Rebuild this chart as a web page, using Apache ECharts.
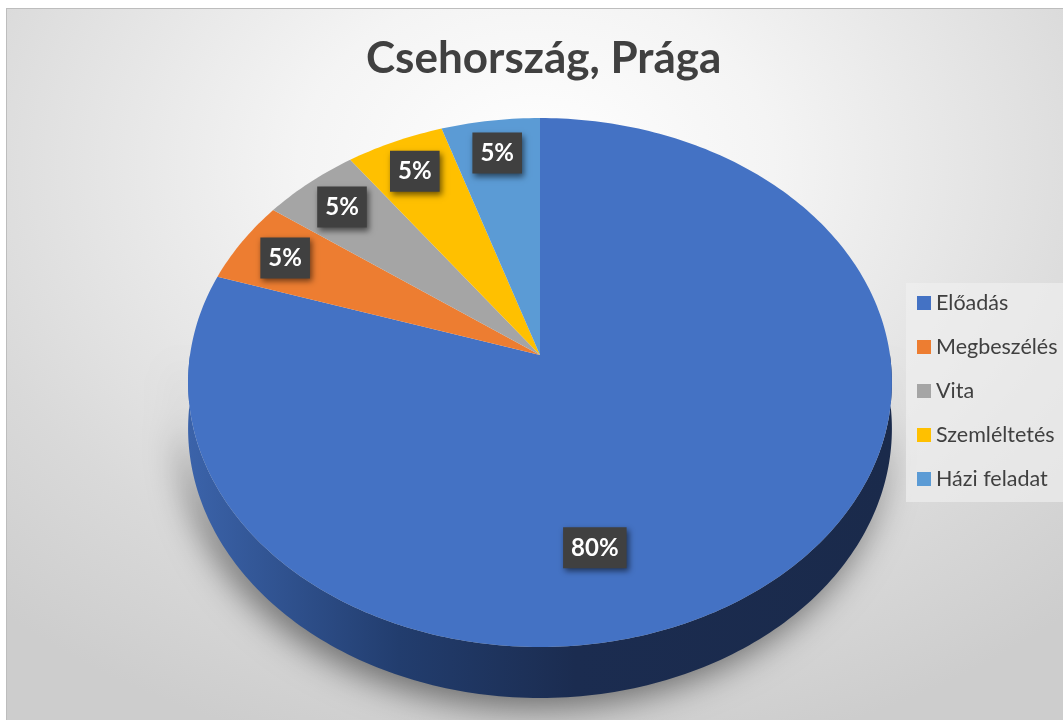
<!DOCTYPE html>
<html>
<head>
<meta charset="utf-8">
<script src="https://cdn.jsdelivr.net/npm/echarts@6/dist/echarts.min.js"></script>
<style>
  html, body { margin: 0; padding: 0; background: #fff; }
  .frame {
    position: absolute; left: 6px; top: 8px; width: 1057px; height: 712px;
    border-left: 1px solid #bdbdbd; border-top: 1px solid #bdbdbd;
    background: radial-gradient(ellipse 75% 85% at 50% 22%, #ffffff 0%, #f4f4f4 30%, #d9d9d9 75%, #cdcdcd 100%);
  }
  #chart { position: absolute; left: 0; top: 0; width: 1063px; height: 720px; }
</style>
</head>
<body>
<div class="frame"></div>
<div id="chart"></div>
<script>
// data
const categories = ['Előadás', 'Megbeszélés', 'Vita', 'Szemléltetés', 'Házi feladat']
const values = [80, 5, 5, 5, 5]
const colors = ['#4472C4', '#ED7D31', '#A5A5A5', '#FFC000', '#5B9BD5']

// 3d pie geometry (screen px)
const CX = 540, CY = 355, RX = 350, RY = 261.6, P = 0.104, DEPTH = 45.7
// label placement: extra angle and radius fraction
const labelShift = [24, 0, 0, 0, 0]
const labelR = [0.70, 0.85, 0.85, 0.85, 0.85]

const total = values.reduce((a, b) => a + b, 0)

function proj(deg, r) {
  const t = deg * Math.PI / 180
  const u = r * Math.sin(t), w = r * Math.cos(t)
  const k = 1 / (1 + P * w)
  return [CX + RX * u * k, CY - RY * w * k, k]
}

function arcPoints(a0, a1, r) {
  const pts = []
  const n = Math.max(2, Math.ceil((a1 - a0) / 1))
  for (let j = 0; j <= n; j++) pts.push(proj(a0 + (a1 - a0) * j / n, r))
  return pts
}

function renderSlice(params, api) {
  const i = params.seriesIndex
  const v = api.value(0)
  let before = 0
  for (let j = 0; j < i; j++) before += values[j]
  const a0 = before / total * 360
  const a1 = (before + v) / total * 360
  const children = []

  // front side wall, only the part facing the viewer
  const s0 = Math.max(a0, 90), s1 = Math.min(a1, 270)
  if (s1 > s0) {
    const top = arcPoints(s0, s1, 1)
    const bottom = top.map(p => [p[0], p[1] + DEPTH * p[2]]).reverse()
    children.push({
      type: 'polygon',
      shape: { points: top.map(p => [p[0], p[1]]).concat(bottom) },
      style: {
        fill: new echarts.graphic.LinearGradient(0, 0, 1, 0, [
          { offset: 0, color: '#3b63aa' },
          { offset: 0.3, color: '#223d6e' },
          { offset: 0.55, color: '#1b2c50' },
          { offset: 1, color: '#1a2a4b' }
        ]),
        shadowBlur: 34,
        shadowColor: 'rgba(0,0,0,0.5)',
        shadowOffsetX: -6,
        shadowOffsetY: 10
      }
    })
  }

  // top face
  const pts = [[CX, CY]].concat(arcPoints(a0, a1, 1).map(p => [p[0], p[1]]))
  children.push({
    type: 'polygon',
    shape: { points: pts },
    style: { fill: colors[i] }
  })

  // data label
  const lp = proj((a0 + a1) / 2 + labelShift[i], labelR[i])
  children.push({
    type: 'text',
    z2: 100,
    x: lp[0],
    y: lp[1],
    style: {
      text: Math.round(v / total * 100) + '%',
      fill: '#ffffff',
      font: 'bold 24px Lato, "Open Sans", sans-serif',
      align: 'center',
      verticalAlign: 'middle',
      backgroundColor: '#404040',
      padding: [9, 8, 8, 8],
      shadowBlur: 6,
      shadowColor: 'rgba(0,0,0,0.55)',
      shadowOffsetX: 2,
      shadowOffsetY: 3
    }
  })

  return { type: 'group', children: children }
}

const myChart = echarts.init(document.getElementById('chart'))

const option = {
  animation: false,
  title: {
    text: 'Csehország, Prága',
    left: 361,
    top: 32,
    textStyle: {
      fontFamily: 'Lato',
      fontWeight: 'bold',
      fontSize: 44,
      color: '#404040'
    }
  },
  legend: {
    orient: 'vertical',
    left: 906,
    top: 283,
    backgroundColor: 'rgba(240,240,240,0.65)',
    padding: [9, 10, 12, 11],
    icon: 'rect',
    itemWidth: 14,
    itemHeight: 14,
    itemGap: 22,
    textStyle: { fontFamily: 'Lato', fontSize: 21.5, color: '#404040', lineHeight: 22 },
    data: categories
  },
  series: categories.map((name, i) => ({
    type: 'custom',
    name: name,
    coordinateSystem: 'none',
    itemStyle: { color: colors[i] },
    renderItem: renderSlice,
    data: [[values[i]]]
  }))
}

myChart.setOption(option)
window.addEventListener('resize', function () {
  myChart.resize()
})
</script>
</body>
</html>
